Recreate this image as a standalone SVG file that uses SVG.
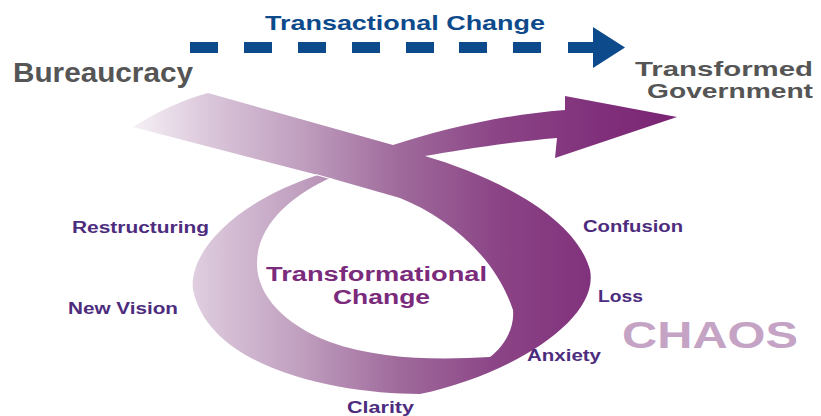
<svg xmlns="http://www.w3.org/2000/svg" width="821" height="416" viewBox="0 0 821 416">
<defs>
<linearGradient id="rib" gradientUnits="userSpaceOnUse" x1="130" y1="0" x2="680" y2="0">
<stop offset="0" stop-color="#f7f2f7"/>
<stop offset="0.145" stop-color="#dac6da"/>
<stop offset="0.31" stop-color="#c09fbf"/>
<stop offset="0.49" stop-color="#9f6a9b"/>
<stop offset="0.67" stop-color="#8b4486"/>
<stop offset="0.855" stop-color="#80307b"/>
<stop offset="1" stop-color="#7a2373"/>
</linearGradient>
<style>
text{font-family:"Liberation Sans",Arial,sans-serif;font-weight:bold}
.lbl{font-size:16px;fill:#4d2c7e}
.grey{fill:#555555}
.blue{fill:#0d4a8c}
</style>
</defs>
<rect width="821" height="416" fill="#ffffff"/>

<g id="transactional-change">
<g class="blue">
<rect x="190" y="42" width="28" height="11"/>
<rect x="244" y="42" width="28" height="11"/>
<rect x="298" y="42" width="28" height="11"/>
<rect x="352" y="42" width="28" height="11"/>
<rect x="406" y="42" width="28" height="11"/>
<rect x="459" y="42" width="28" height="11"/>
<rect x="513" y="42" width="28" height="11"/>
<path d="M568,42 H593 V27 L625,47.5 L593,68 V53 H568 Z"/>
</g>
<text class="blue" x="265" y="30" font-size="21" textLength="280" lengthAdjust="spacingAndGlyphs">Transactional Change</text>
</g>

<g id="bureaucracy">
<text class="grey" x="13" y="82" font-size="27" textLength="180" lengthAdjust="spacingAndGlyphs">Bureaucracy</text>
</g>

<g id="transformed-government">
<text class="grey" x="635" y="76" font-size="21" textLength="178" lengthAdjust="spacingAndGlyphs">Transformed</text>
<text class="grey" x="647" y="98" font-size="21" textLength="166" lengthAdjust="spacingAndGlyphs">Government</text>
</g>

<g id="ribbon">
<path fill="url(#rib)" fill-rule="evenodd" d="M208,93 L393,145 C440,130 500,115 565,110 L565,96 L677,117 L555,158 L557,138 C510,142 460,150 425,156 C490,175 575,215 590,270 C600,320 510,375 420,394 C340,394 210,370 193,290 C188,250 240,200 318,175 L133,127 C160,110 185,99 208,93 Z M330,178 L400,198 C445,216 495,255 513,310 C515,330 502,348 490,357 C440,360 380,360 330,342 C285,325 256,295 257,262 C258,222 295,194 330,178 Z"/>
<path d="M316,174.5 L333,179.5" stroke="#ffffff" stroke-width="1.2" fill="none"/>
</g>

<g id="transformational-change">
<text x="266" y="281" font-size="20" fill="#7b2b7b" textLength="221" lengthAdjust="spacingAndGlyphs">Transformational</text>
<text x="333" y="304" font-size="20" fill="#7b2b7b" textLength="97" lengthAdjust="spacingAndGlyphs">Change</text>
</g>

<g id="labels">
<text class="lbl" x="72" y="233" textLength="137" lengthAdjust="spacingAndGlyphs">Restructuring</text>
<text class="lbl" x="68" y="314" textLength="110" lengthAdjust="spacingAndGlyphs">New Vision</text>
<text class="lbl" x="347" y="413" textLength="67" lengthAdjust="spacingAndGlyphs">Clarity</text>
<text class="lbl" x="527" y="361" textLength="74" lengthAdjust="spacingAndGlyphs">Anxiety</text>
<text class="lbl" x="598" y="302" textLength="45" lengthAdjust="spacingAndGlyphs">Loss</text>
<text class="lbl" x="583" y="232" textLength="100" lengthAdjust="spacingAndGlyphs">Confusion</text>
</g>

<g id="chaos">
<text x="622" y="348" font-size="36" fill="#c5a3c5" textLength="176" lengthAdjust="spacingAndGlyphs">CHAOS</text>
</g>
</svg>
